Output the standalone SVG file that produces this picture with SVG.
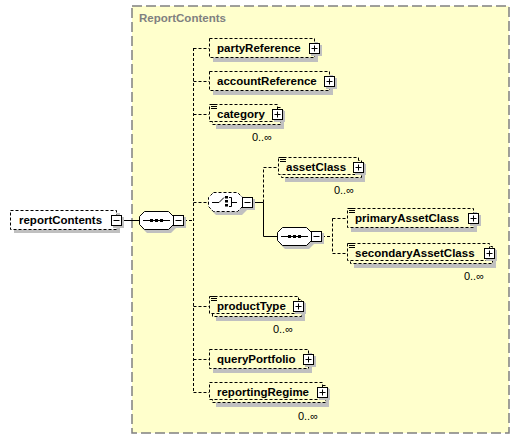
<svg xmlns="http://www.w3.org/2000/svg" width="520" height="440" viewBox="0 0 520 440">
<style>
.bg{fill:#ffffcc;stroke:#808080;stroke-width:1.5;stroke-dasharray:10,4}
.title{font-family:"Liberation Sans",Arial,sans-serif;font-size:11.5px;font-weight:bold;fill:#808080}
.el{fill:#ffffcc;stroke:#000;stroke-width:1;stroke-dasharray:3,2}
.elw{fill:#ffffff;stroke:#000;stroke-width:1;stroke-dasharray:3,2}
.sh{fill:#c0c0c0}
.lbl{font-family:"Liberation Sans",Arial,sans-serif;font-size:11.5px;font-weight:bold;fill:#000}
.occ{font-family:"Liberation Sans",Arial,sans-serif;font-size:11px;fill:#000}
.btn{fill:#fff;stroke:#000;stroke-width:1}
.sym{stroke:#000;stroke-width:1;fill:none}
.oct{fill:#fff;stroke:#000;stroke-width:1}
.octd{fill:#fff;stroke:#000;stroke-width:1;stroke-dasharray:3,2}
.solid{stroke:#000;stroke-width:1;fill:none}
.dash{stroke:#000;stroke-width:1;fill:none;stroke-dasharray:3,2}
.ic{stroke:#000;stroke-width:1}
</style>
<defs>
<g id="plus"><rect class="sh" x="2" y="2" width="11" height="11"/><rect class="btn" x="0.5" y="0.5" width="10" height="10"/><path class="sym" d="M2.5,5.5H8.5M5.5,2.5V8.5"/></g>
<g id="minus"><rect class="sh" x="2" y="2" width="11" height="11"/><rect class="btn" x="0.5" y="0.5" width="10" height="10"/><path class="sym" d="M2.5,5.5H8.5"/></g>
<g id="doc"><path class="ic" d="M1,1.5H7M1,3.5H7M1,5.5H7"/></g>
</defs>

<rect class="bg" x="132" y="6" width="377" height="427"/>
<text class="title" x="139" y="22">ReportContents</text>

<g id="connectors">
<path class="solid" d="M121,220.5H139"/>
<path class="dash" d="M184,220.5H193.5M193.5,48V392.5"/>
<path class="dash" d="M193.5,48.5H209M193.5,81.5H209M193.5,114.5H209M193.5,202.5H208M193.5,306.5H209M193.5,359.5H209M193.5,392.5H209"/>
<path class="solid" d="M253,202.5H263.5V236.5H277"/>
<path class="dash" d="M263.5,202.5V167.5H278"/>
<path class="dash" d="M322,236.5H332.5M332.5,218.5V253.5M332.5,218.5H347M332.5,253.5H347"/>
</g>

<g id="reportContents">
<rect class="sh" x="14" y="213" width="106" height="20"/>
<rect class="elw" x="10.5" y="210.5" width="106" height="19"/>
<text class="lbl" x="19" y="224">reportContents</text>
<use href="#minus" x="111" y="215"/>
</g>

<g id="sequence">
<path class="sh" d="M147,214H171L176,219V228L171,233H147L142,228V219Z"/>
<path class="oct" d="M144.5,211.5H168.5L173.5,216.5V224.5L168.5,229.5H144.5L139.5,224.5V216.5Z"/>
<path class="solid" d="M143,220.5H170"/>
<rect x="150" y="219" width="3" height="3" fill="#000"/><rect x="155" y="219" width="3" height="3" fill="#000"/><rect x="160" y="219" width="3" height="3" fill="#000"/>
<use href="#minus" x="173" y="215"/>
</g>

<g id="partyReference">
<rect class="sh" x="213" y="42" width="105" height="20"/>
<rect class="el" x="209.5" y="38.5" width="105" height="19"/>
<text class="lbl" x="217" y="52">partyReference</text>
<use href="#plus" x="309" y="43"/>
</g>

<g id="accountReference">
<rect class="sh" x="213" y="75" width="120" height="20"/>
<rect class="el" x="209.5" y="71.5" width="120" height="19"/>
<text class="lbl" x="217" y="85">accountReference</text>
<use href="#plus" x="324" y="76"/>
</g>

<g id="category">
<rect class="sh" x="216" y="110" width="68" height="19"/>
<rect class="el" x="212.5" y="107.5" width="68" height="17"/>
<rect class="el" x="209.5" y="104.5" width="68" height="17"/>
<use href="#doc" x="210" y="103"/>
<text class="lbl" x="217" y="118">category</text>
<use href="#plus" x="272" y="109"/>
<text class="occ" x="272" y="141" text-anchor="end">0..∞</text>
</g>

<g id="choice">
<path class="sh" d="M216,196H242L247,201V210L242,215H216L211,210V201Z"/>
<path class="octd" d="M213.5,192.5H237.5L242.5,197.5V206.5L237.5,211.5H213.5L208.5,206.5V197.5Z"/>
<path class="solid" d="M212,202.5H219L224,197.5"/>
<rect x="225" y="196" width="3" height="2.5" fill="#000"/><rect x="225" y="200" width="3" height="2.5" fill="#000"/><rect x="225" y="204" width="3" height="2.5" fill="#000"/>
<path class="solid" d="M229,197.5H231.5V206.5H229M231.5,202.5H237"/>
<use href="#minus" x="242" y="197"/>
</g>

<g id="assetClass">
<rect class="sh" x="285" y="163" width="80" height="19"/>
<rect class="el" x="281.5" y="160.5" width="80" height="17"/>
<rect class="el" x="278.5" y="157.5" width="80" height="17"/>
<use href="#doc" x="279" y="156"/>
<text class="lbl" x="286" y="171">assetClass</text>
<use href="#plus" x="353" y="162"/>
<text class="occ" x="354" y="194" text-anchor="end">0..∞</text>
</g>

<g id="innerSequence">
<path class="sh" d="M285,230H309L314,235V244L309,249H285L280,244V235Z"/>
<path class="oct" d="M282.5,227.5H306.5L311.5,232.5V240.5L306.5,245.5H282.5L277.5,240.5V232.5Z"/>
<path class="solid" d="M281,236.5H308"/>
<rect x="288" y="235" width="3" height="3" fill="#000"/><rect x="293" y="235" width="3" height="3" fill="#000"/><rect x="298" y="235" width="3" height="3" fill="#000"/>
<use href="#minus" x="311" y="231"/>
</g>

<g id="primaryAssetClass">
<rect class="sh" x="351" y="212" width="126" height="20"/>
<rect class="el" x="347.5" y="208.5" width="126" height="19"/>
<use href="#doc" x="348" y="207"/>
<text class="lbl" x="355" y="222">primaryAssetClass</text>
<use href="#plus" x="468" y="213"/>
</g>

<g id="secondaryAssetClass">
<rect class="sh" x="354" y="249" width="142" height="19"/>
<rect class="el" x="350.5" y="246.5" width="142" height="17"/>
<rect class="el" x="347.5" y="243.5" width="142" height="17"/>
<use href="#doc" x="348" y="242"/>
<text class="lbl" x="355" y="257">secondaryAssetClass</text>
<use href="#plus" x="484" y="248"/>
<text class="occ" x="484" y="280" text-anchor="end">0..∞</text>
</g>

<g id="productType">
<rect class="sh" x="216" y="302" width="89" height="19"/>
<rect class="el" x="212.5" y="299.5" width="89" height="17"/>
<rect class="el" x="209.5" y="296.5" width="89" height="17"/>
<use href="#doc" x="210" y="295"/>
<text class="lbl" x="217" y="310">productType</text>
<use href="#plus" x="293" y="301"/>
<text class="occ" x="293" y="333" text-anchor="end">0..∞</text>
</g>

<g id="queryPortfolio">
<rect class="sh" x="213" y="353" width="99" height="20"/>
<rect class="el" x="209.5" y="349.5" width="99" height="19"/>
<text class="lbl" x="217" y="363">queryPortfolio</text>
<use href="#plus" x="303" y="354"/>
</g>

<g id="reportingRegime">
<rect class="sh" x="216" y="388" width="113" height="19"/>
<rect class="el" x="212.5" y="385.5" width="113" height="17"/>
<rect class="el" x="209.5" y="382.5" width="113" height="17"/>
<text class="lbl" x="217" y="396">reportingRegime</text>
<use href="#plus" x="317" y="387"/>
<text class="occ" x="318" y="420" text-anchor="end">0..∞</text>
</g>
</svg>
